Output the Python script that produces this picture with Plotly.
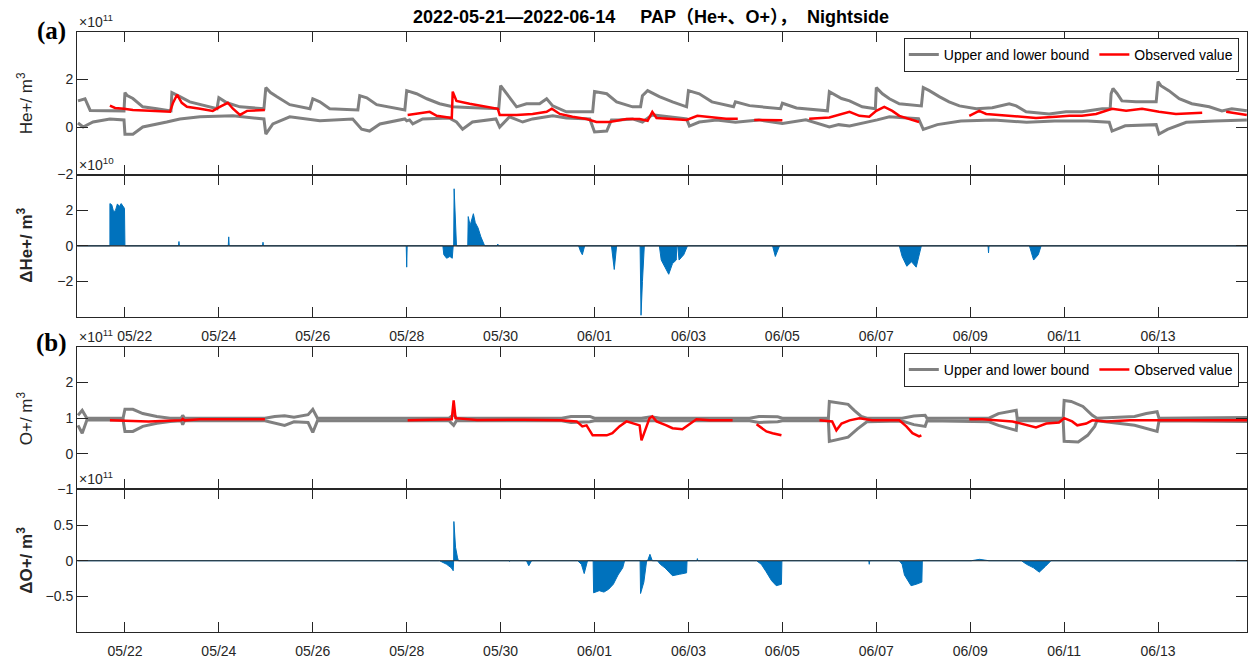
import pandas as pd
import plotly.graph_objects as go
from plotly.subplots import make_subplots

START = pd.Timestamp("2022-05-21 00:00")
X_END_DAYS = 24.894
DATE_TICKS = ["05/22", "05/24", "05/26", "05/28", "05/30", "06/01", "06/03",
              "06/05", "06/07", "06/09", "06/11", "06/13"]

# ---- He+ density (x1e11 m^-3); time in days since 2022-05-21 00:00 ----
HE_UPPER = [(0, 1.1), (0.15, 1.19), (0.26, 0.7), (0.98, 0.68), (1.0, 1.45), (1.05, 1.32), (1.17, 1.2),
            (1.38, 0.85), (1.68, 0.77), (1.98, 0.68), (2.0, 1.45), (2.08, 1.36), (2.17, 1.28), (2.38, 1.06),
            (2.6, 0.94), (2.96, 0.77), (3.0, 1.23), (3.17, 1.02), (3.45, 0.85), (3.96, 0.77), (4.0, 1.66),
            (4.1, 1.45), (4.23, 1.28), (4.51, 0.94), (4.94, 0.77), (5.0, 1.19), (5.15, 1.06), (5.36, 0.77),
            (5.96, 0.72), (6.0, 1.32), (6.15, 1.23), (6.36, 0.94), (6.96, 0.72), (7.0, 1.53), (7.21, 1.4),
            (7.43, 1.19), (7.7, 0.98), (7.98, 0.85), (8.3, 0.82), (8.6, 0.8), (8.96, 0.77), (9.0, 1.74),
            (9.13, 1.4), (9.34, 0.85), (9.55, 0.98), (9.83, 0.98), (9.98, 1.19), (10.11, 0.89),
            (10.4, 0.64), (10.96, 0.64), (11.0, 1.49), (11.26, 1.4), (11.47, 1.06), (11.81, 0.85),
            (11.98, 0.85), (12.02, 1.32), (12.13, 1.53), (12.38, 1.28), (12.66, 1.06), (12.96, 0.85),
            (13.0, 1.53), (13.23, 1.4), (13.5, 1.06), (13.96, 0.85), (14.0, 1.06), (14.3, 0.9),
            (14.96, 0.77), (15.0, 1.0), (15.3, 0.8), (15.96, 0.68), (16.0, 1.49), (16.26, 1.2),
            (16.43, 1.1), (16.7, 0.85), (16.98, 0.77), (17.0, 1.66), (17.13, 1.4), (17.28, 1.19),
            (17.49, 0.98), (17.96, 0.89), (18.0, 1.66), (18.13, 1.53), (18.34, 1.28), (18.55, 1.06),
            (18.77, 0.89), (19.13, 0.77), (19.47, 0.81), (19.83, 0.98), (19.98, 0.89), (20.19, 0.64),
            (20.68, 0.55), (21.04, 0.64), (21.38, 0.64), (21.81, 0.77), (21.98, 0.77), (22.0, 1.4),
            (22.04, 1.62), (22.13, 1.4), (22.23, 1.1), (22.53, 1.06), (22.96, 1.06), (23.0, 1.91),
            (23.06, 1.74), (23.23, 1.53), (23.45, 1.19), (23.72, 0.98), (24.09, 0.85), (24.36, 0.68),
            (24.57, 0.77), (24.89, 0.68)]
HE_LOWER = [(0, 0.17), (0.11, 0.0), (0.32, 0.21), (0.68, 0.34), (0.98, 0.3), (1.0, -0.3), (1.17, -0.3),
            (1.38, 0.0), (1.89, 0.21), (2.17, 0.34), (2.6, 0.43), (3.3, 0.47), (3.96, 0.34), (4.0, -0.3),
            (4.15, 0.13), (4.51, 0.43), (5.15, 0.26), (5.85, 0.34), (6.04, -0.09), (6.21, -0.17),
            (6.43, 0.13), (6.96, 0.34), (7.0, 0.26), (7.06, 0.3), (7.13, 0.13), (7.34, 0.34), (7.9, 0.38),
            (8.06, 0.21), (8.19, -0.09), (8.4, 0.21), (8.9, 0.34), (8.98, 0.0), (9.19, 0.43), (9.47, 0.21),
            (9.68, 0.34), (10.11, 0.47), (10.4, 0.38), (10.9, 0.34), (11.0, -0.21), (11.26, -0.17),
            (11.36, 0.3), (11.5, 0.3), (11.81, 0.34), (12.02, 0.21), (12.23, 0.51), (12.53, 0.43),
            (12.96, 0.34), (13.02, 0.04), (13.23, 0.21), (13.6, 0.3), (14.0, 0.2), (14.5, 0.3),
            (15.0, 0.15), (15.5, 0.3), (16.0, 0.0), (16.2, 0.1), (16.43, 0.04), (17.02, 0.3),
            (17.28, 0.43), (17.5, 0.4), (17.9, 0.35), (18.0, -0.1), (18.3, 0.1), (18.8, 0.25),
            (19.5, 0.3), (20.2, 0.2), (20.8, 0.25), (21.5, 0.25), (21.96, 0.2), (22.02, -0.17),
            (22.3, 0.05), (22.96, 0.1), (23.02, -0.3), (23.2, -0.1), (23.6, 0.2), (24.2, 0.25),
            (24.89, 0.3)]
HE_OBS = [(0.68, 0.9), (0.79, 0.8), (0.98, 0.77), (1.17, 0.72), (1.53, 0.68), (1.96, 0.64), (2.02, 1.0),
          (2.11, 1.36), (2.21, 1.02), (2.32, 0.85), (2.6, 0.77), (2.87, 0.68), (3.02, 0.85), (3.19, 1.02),
          (3.3, 0.77), (3.45, 0.51), (3.6, 0.68), (3.98, 0.72), (4.5, None), (7.02, 0.51), (7.49, 0.64),
          (7.64, 0.47), (7.96, 0.38), (7.98, 1.49), (8.06, 1.1), (8.34, 0.98), (8.62, 0.89), (8.94, 0.77),
          (8.98, 0.51), (9.34, 0.51), (9.68, 0.55), (9.98, 0.64), (10.09, 0.77), (10.26, 0.55),
          (10.53, 0.43), (10.83, 0.34), (11.04, 0.21), (11.32, 0.21), (11.68, 0.34), (11.96, 0.34),
          (12.13, 0.26), (12.23, 0.64), (12.32, 0.38), (12.66, 0.34), (12.96, 0.3), (13.19, 0.47),
          (13.5, 0.4), (13.8, 0.35), (14.05, 0.35), (14.2, None), (14.4, 0.3), (14.7, 0.3), (15.0, 0.28),
          (15.3, None), (15.57, 0.35), (16.0, 0.4), (16.43, 0.64), (16.64, 0.47), (16.85, 0.43),
          (17.0, 0.68), (17.17, 0.85), (17.34, 0.68), (17.49, 0.47), (17.7, 0.34), (17.91, 0.21),
          (18.4, None), (18.98, 0.47), (19.19, 0.68), (19.34, 0.55), (19.62, 0.51), (19.98, 0.47),
          (20.4, 0.38), (20.83, 0.43), (21.11, 0.47), (21.38, 0.47), (21.68, 0.55), (22.02, 0.77),
          (22.32, 0.68), (22.66, 0.77), (23.02, 0.64), (23.38, 0.55), (23.94, 0.6), (24.2, None),
          (24.45, 0.64), (24.89, 0.51)]
# ---- ΔHe+ (x1e10 m^-3) ----
HE_DELTA = [(0, 0), (0.68, 0), (0.68, 2.37), (0.72, 2.3), (0.76, 1.9), (0.8, 2.0), (0.84, 2.35), (0.88, 2.2),
            (0.92, 2.37), (0.96, 2.2), (0.99, 2.1), (1.0, 0), (2.14, 0), (2.15, 0.24), (2.16, 0),
            (3.2, 0), (3.21, 0.5), (3.22, 0), (3.93, 0), (3.94, 0.2), (3.95, 0), (6.99, 0), (7.0, -1.2),
            (7.01, 0), (7.77, 0), (7.79, -0.5), (7.85, -0.7), (7.92, -0.6), (7.97, -0.7), (7.99, 0),
            (8.0, 0), (8.01, 3.2), (8.03, 2.0), (8.05, 1.0), (8.06, 0), (8.3, 0), (8.31, 1.64),
            (8.35, 1.14), (8.39, 1.5), (8.42, 1.8), (8.46, 1.3), (8.52, 1.0), (8.58, 0.5), (8.66, 0),
            (8.93, 0), (8.94, 0.1), (8.95, 0), (10.66, 0), (10.7, -0.3), (10.74, -0.5), (10.79, 0),
            (11.36, 0), (11.42, -1.33), (11.47, 0), (11.97, 0), (11.99, -3.9), (12.02, -2.0),
            (12.05, -0.5), (12.06, 0), (12.38, 0), (12.42, -0.8), (12.5, -1.2), (12.58, -1.6),
            (12.66, -1.0), (12.74, -0.8), (12.75, 0), (12.77, 0), (12.8, -0.8), (12.9, -0.5), (12.98, 0),
            (14.79, 0), (14.85, -0.6), (14.94, 0), (17.49, 0), (17.55, -0.6), (17.65, -1.15),
            (17.75, -0.9), (17.85, -1.2), (17.96, 0), (19.38, 0), (19.39, -0.4), (19.4, 0), (20.26, 0),
            (20.35, -0.8), (20.45, -0.5), (20.51, 0), (24.9, 0)]

# ---- O+ density (x1e11 m^-3) ----
O_UPPER = [(0, 1.08), (0.09, 1.22), (0.19, 1.0), (0.96, 1.0), (1.0, 1.25), (1.17, 1.25), (1.38, 1.13),
           (1.68, 1.05), (1.96, 1.0), (2.2, 1.0), (2.23, 1.08), (2.27, 1.0), (3.98, 1.0), (4.19, 1.05),
           (4.4, 1.07), (4.6, 1.03), (4.9, 1.1), (5.0, 1.25), (5.1, 1.0), (7.9, 1.0), (8.0, 1.1),
           (8.06, 1.0), (10.3, 1.0), (10.5, 1.05), (10.9, 1.05), (11.0, 1.0), (12.0, 1.0), (12.2, 1.04),
           (12.4, 1.0), (14.3, 1.0), (14.5, 1.05), (14.9, 1.04), (15.0, 1.0), (15.98, 1.0), (16.0, 1.47),
           (16.4, 1.39), (16.53, 1.22), (16.68, 1.05), (16.8, 1.0), (17.55, 1.0), (17.8, 1.06),
           (18.04, 1.08), (18.08, 1.0), (19.4, 1.0), (19.6, 1.13), (19.98, 1.22), (20.0, 1.0),
           (20.98, 1.0), (21.0, 1.5), (21.15, 1.47), (21.4, 1.33), (21.6, 1.08), (21.7, 1.0),
           (22.5, 1.05), (22.75, 1.13), (22.98, 1.18), (23.02, 1.0), (24.9, 1.02)]
O_LOWER = [(0, 0.8), (0.09, 0.58), (0.19, 0.95), (0.96, 0.95), (1.0, 0.63), (1.17, 0.63), (1.38, 0.77),
           (1.68, 0.86), (1.96, 0.91), (2.2, 0.93), (2.23, 0.82), (2.27, 0.93), (3.98, 0.93), (4.19, 0.86),
           (4.4, 0.8), (4.6, 0.9), (4.9, 0.88), (5.0, 0.6), (5.1, 0.93), (7.9, 0.93), (8.0, 0.8),
           (8.06, 0.93), (10.3, 0.93), (10.5, 0.88), (10.9, 0.9), (11.0, 0.93), (14.3, 0.93), (14.5, 0.88),
           (14.9, 0.9), (15.0, 0.93), (15.98, 0.93), (16.0, 0.35), (16.4, 0.47), (16.6, 0.7), (16.8, 0.9),
           (17.55, 0.92), (17.8, 0.82), (18.04, 0.77), (18.08, 0.93), (19.4, 0.9), (19.6, 0.8),
           (19.98, 0.66), (20.0, 0.93), (20.98, 0.93), (21.0, 0.35), (21.3, 0.33), (21.5, 0.52),
           (21.65, 0.77), (21.7, 0.93), (22.5, 0.8), (22.75, 0.72), (22.98, 0.63), (23.02, 0.93),
           (24.9, 0.91)]
O_OBS = [(0.68, 0.94), (1.5, 0.91), (2.2, 0.94), (2.23, 0.98), (2.27, 0.94), (2.6, 0.97), (3.98, 0.97),
         (4.5, None), (7.02, 0.94), (7.5, 0.95), (7.96, 0.97), (8.0, 1.5), (8.04, 1.0), (8.5, 0.95),
         (9.5, 0.96), (10.26, 0.94), (10.62, 0.91), (10.74, 0.77), (10.83, 0.8), (10.96, 0.52),
         (11.26, 0.52), (11.38, 0.58), (11.53, 0.77), (11.68, 0.91), (11.96, 0.8), (12.0, 0.38),
         (12.09, 0.72), (12.17, 1.0), (12.23, 1.05), (12.32, 0.91), (12.53, 0.8), (12.66, 0.72),
         (12.87, 0.69), (12.98, 0.8), (13.17, 0.97), (13.45, 0.94), (13.94, 0.94), (14.2, None),
         (14.45, 0.83), (14.57, 0.72), (14.66, 0.63), (14.79, 0.58), (14.98, 0.52), (15.3, None),
         (15.79, 0.94), (16.06, 0.91), (16.15, 0.66), (16.26, 0.85), (16.43, 0.94), (16.64, 1.0),
         (16.91, 0.94), (17.49, 0.94), (17.64, 0.77), (17.77, 0.58), (17.91, 0.49), (17.96, 0.52),
         (18.4, None), (18.98, 0.97), (19.26, 0.97), (19.9, 0.91), (20.11, 0.83), (20.4, 0.74),
         (20.62, 0.85), (20.89, 0.88), (21.0, 1.0), (21.17, 0.91), (21.28, 0.8), (21.47, 0.85),
         (21.6, 0.94), (21.9, 0.91), (22.4, 0.94), (23.9, 0.94), (24.9, 0.94)]
# ---- ΔO+ (x1e11 m^-3) ----
O_DELTA = [(0, 0), (7.31, 0), (7.32, 0.01), (7.33, 0), (7.7, 0), (7.85, -0.05), (7.95, -0.1), (7.99, -0.14),
           (8.0, 0), (8.005, 0.55), (8.02, 0.3), (8.04, 0.19), (8.08, 0.05), (8.1, 0), (9.18, 0),
           (9.19, -0.01), (9.2, 0), (9.55, 0), (9.6, -0.07), (9.66, 0), (10.64, 0), (10.72, -0.05),
           (10.78, -0.18), (10.85, 0), (10.97, 0), (10.98, -0.45), (11.1, -0.42), (11.2, -0.44),
           (11.3, -0.4), (11.4, -0.33), (11.5, -0.2), (11.6, -0.1), (11.64, 0), (11.97, 0),
           (11.98, -0.46), (12.05, -0.3), (12.11, 0), (12.13, 0), (12.18, 0.09), (12.23, 0), (12.34, 0),
           (12.4, -0.05), (12.5, -0.1), (12.66, -0.21), (12.81, -0.19), (12.96, -0.17), (12.97, 0),
           (13.18, 0), (13.19, 0.03), (13.2, 0), (14.45, 0), (14.55, -0.05), (14.65, -0.15),
           (14.77, -0.28), (14.87, -0.35), (14.98, -0.33), (14.99, 0), (16.84, 0), (16.85, -0.05),
           (16.86, 0), (17.49, 0), (17.55, -0.05), (17.6, -0.2), (17.74, -0.35), (17.85, -0.33),
           (17.97, -0.3), (17.98, 0), (19.02, 0), (19.2, 0.02), (19.4, 0), (20.09, 0), (20.2, -0.05),
           (20.35, -0.1), (20.47, -0.16), (20.6, -0.08), (20.72, 0), (24.9, 0)]

GRAY = "#808080"
RED = "#FF0000"
BLUE = "#0072BD"
AX = "#262626"
FONT = "Liberation Sans, Arial, Noto Sans CJK SC, sans-serif"
NB = "\u00a0"


def unzip(pairs):
    t = [START + pd.Timedelta(days=d) for d, _ in pairs]
    v = [val for _, val in pairs]
    return t, v


fig = make_subplots(rows=4, cols=1)

for row, (up, lo, obs, leg) in ((1, (HE_UPPER, HE_LOWER, HE_OBS, "legend")),
                                (3, (O_UPPER, O_LOWER, O_OBS, "legend2"))):
    for i, series in enumerate((up, lo)):
        t, v = unzip(series)
        fig.add_trace(go.Scatter(x=t, y=v, mode="lines", line=dict(color=GRAY, width=3),
                                 name="Upper and lower bound", legendgroup="b" + str(row),
                                 showlegend=(i == 0), legend=leg), row=row, col=1)
    t, v = unzip(obs)
    fig.add_trace(go.Scatter(x=t, y=v, mode="lines", line=dict(color=RED, width=2.5),
                             name="Observed value", connectgaps=False, legend=leg), row=row, col=1)

for row, series in ((2, HE_DELTA), (4, O_DELTA)):
    t, v = unzip(series)
    fig.add_trace(go.Scatter(x=t, y=v, mode="lines", line=dict(color=BLUE, width=1),
                             fill="tozeroy", fillcolor=BLUE, showlegend=False), row=row, col=1)

H = 602.0
p = 143 / H
domains = {1: [1 - p, 1.0], 2: [1 - 2 * p, 1 - p], 3: [p, 2 * p], 4: [0.0, p]}
yranges = {1: [-2, 4], 2: [-4, 4], 3: [-1, 3], 4: [-1, 1]}
yticks = {1: [-2, 0, 2], 2: [-2, 0, 2], 3: [-1, 0, 1, 2], 4: [-0.5, 0, 0.5]}
yticktext = {1: ["\u22122", "0", "2"], 2: ["\u22122", "0", "2"], 3: ["\u22121", "0", "1", "2"],
             4: ["\u22120.5", "0", "0.5"]}

tick_dates = [pd.Timestamp("2022/" + s) for s in DATE_TICKS]
xr = [START - pd.Timedelta(hours=0.5), START + pd.Timedelta(days=X_END_DAYS)]

for r in range(1, 5):
    labels = list(DATE_TICKS)
    if r == 2:
        labels[0] = NB * 5 + labels[0]
    fig.update_xaxes(row=r, col=1, range=xr, tickvals=tick_dates, ticktext=labels,
                     showticklabels=(r in (2, 4)), ticks="inside", ticklen=10, tickcolor=AX,
                     showline=True, linecolor=AX, linewidth=1, mirror="ticks", showgrid=False,
                     zeroline=False, ticklabelstandoff=6,
                     tickfont=dict(size=14, color=AX, family=FONT))
    fig.update_yaxes(row=r, col=1, domain=domains[r], range=yranges[r], tickvals=yticks[r],
                     ticktext=yticktext[r], ticks="inside", ticklen=11, tickcolor=AX,
                     showline=True, linecolor=AX, linewidth=1, mirror="ticks", showgrid=False,
                     zeroline=False, tickfont=dict(size=14, color=AX, family=FONT))

# zero reference lines of the difference panels (drawn above the filled areas)
shapes = []
for r in (2, 4):
    shapes.append(dict(type="line", xref="x%d domain" % r, yref="y%d" % r, x0=0, x1=1, y0=0, y1=0,
                       line=dict(color=AX, width=1.2), layer="above"))

annotations = []
exps = {1: "11", 2: "10", 3: "11", 4: "11"}
for r in range(1, 5):
    annotations.append(dict(xref="paper", yref="paper", x=0, y=domains[r][1], xanchor="left",
                            yanchor="bottom", showarrow=False,
                            text="\u00d710<sup>" + exps[r] + "</sup>",
                            font=dict(size=14, color=AX, family=FONT)))
ytitles = {1: "He+/ m<sup>3</sup>", 2: "<b>\u0394He+/ m<sup>3</sup></b>",
           3: "O+/ m<sup>3</sup>", 4: "<b>\u0394O+/ m<sup>3</sup></b>"}
for r in range(1, 5):
    annotations.append(dict(xref="paper", yref="paper", x=-0.0444, y=sum(domains[r]) / 2,
                            xanchor="center", yanchor="middle", textangle=-90, showarrow=False,
                            text=ytitles[r], font=dict(size=17, color=AX, family=FONT)))
for lab, yc in (("(a)", 31), ("(b)", 344)):
    annotations.append(dict(xref="paper", yref="paper", x=-0.0222, y=(634 - yc) / H,
                            xanchor="center", yanchor="middle", showarrow=False,
                            text="<b>" + lab + "</b>",
                            font=dict(size=25, color="black", family="Liberation Serif, Times New Roman, serif")))

legend_common = dict(orientation="h", xanchor="right", yanchor="top", x=0.993,
                     bordercolor=AX, borderwidth=1, bgcolor="white",
                     font=dict(size=14, color="black", family=FONT), tracegroupgap=0)

title_text = ("<b>2022-05-21\u20142022-06-14" + NB * 5 + "PAP\uff08He+\u3001O+\uff09\uff0c" + NB * 2 +
              "Nightside</b>")

fig.update_layout(
    width=1248, height=659,
    margin=dict(l=77, r=0, t=32, b=25),
    paper_bgcolor="white", plot_bgcolor="white",
    font=dict(family=FONT, color=AX),
    title=dict(text=title_text, x=(651.5 - 77) / 1171, xref="paper", xanchor="center", y=1 - 17 / 659,
               yref="container", yanchor="middle",
               font=dict(size=18, color="black", family=FONT)),
    legend=dict(y=(634 - 38) / H, **legend_common),
    legend2=dict(y=(634 - 354) / H, **legend_common),
    annotations=annotations,
    shapes=shapes,
)

fig.write_html("out.html")
